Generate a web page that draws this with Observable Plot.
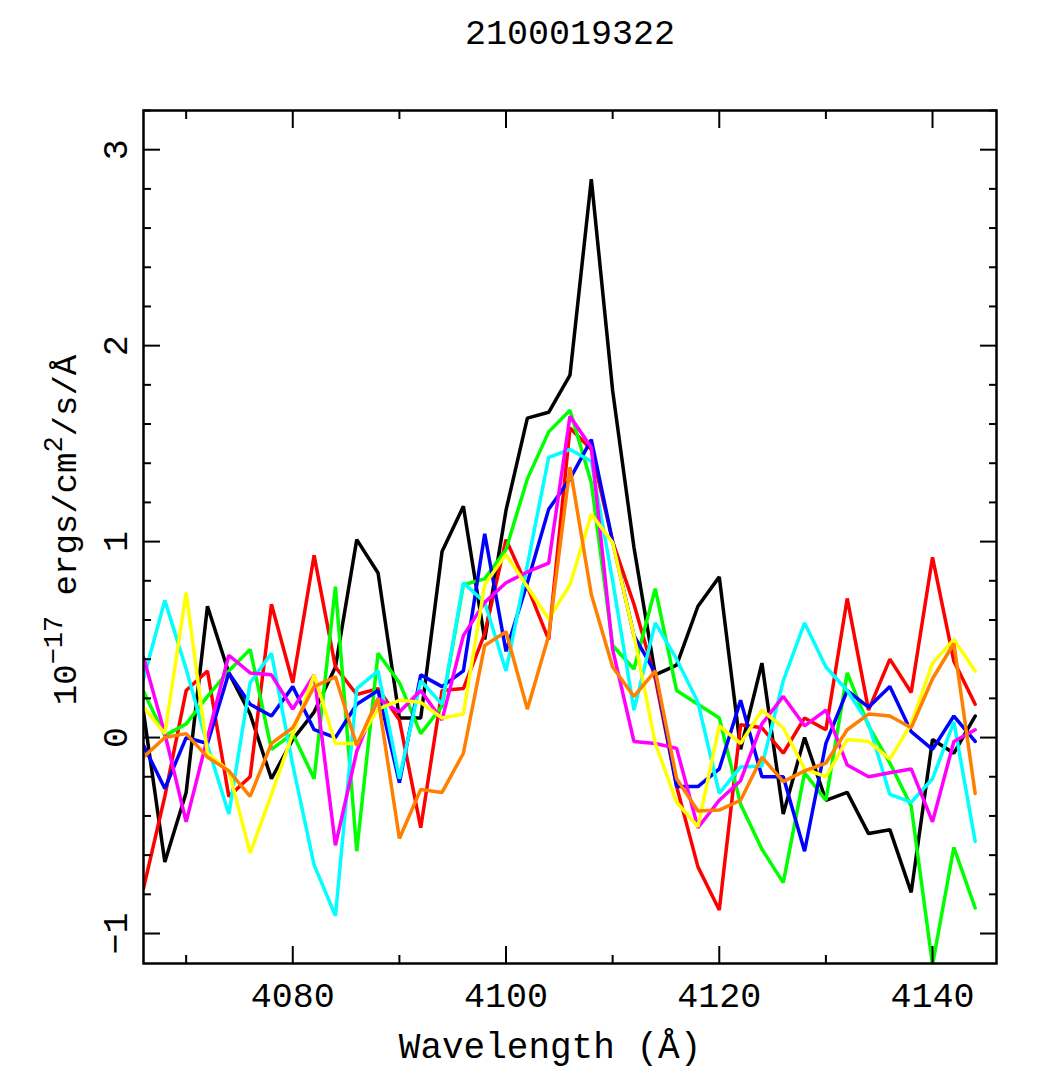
<!DOCTYPE html>
<html><head><meta charset="utf-8">
<script src="https://cdn.jsdelivr.net/npm/d3@7"></script>
<script src="https://cdn.jsdelivr.net/npm/@observablehq/plot@0.6"></script>
<style>html,body{margin:0;padding:0;background:#fff}</style>
</head><body><div id="chart"></div>
<script>
const title = "2100019322";
const xLabel = "Wavelength (Å)";
const yLabel = "10-17 ergs/cm2/s/Å";
const xMajorTicks = [4080, 4100, 4120, 4140];
const xMinorTicks = [4070, 4090, 4110, 4130];
const yMajorTicks = [-1, 0, 1, 2, 3];
const yMinorTicks = [-0.8, -0.6, -0.4, -0.2, 0.2, 0.4, 0.6, 0.8, 1.2, 1.4, 1.6, 1.8, 2.2, 2.4, 2.6, 2.8, 3.2];

const wavelengths = [4066, 4068, 4070, 4072, 4074, 4076, 4078, 4080, 4082, 4084,
  4086, 4088, 4090, 4092, 4094, 4096, 4098, 4100, 4102, 4104,
  4106, 4108, 4110, 4112, 4114, 4116, 4118, 4120, 4122, 4124,
  4126, 4128, 4130, 4132, 4134, 4136, 4138, 4140, 4142, 4144];

const black = [0.13, -0.635, -0.28, 0.67, 0.33, 0.12, -0.21, -0.01, 0.13, 0.36,
  1.01, 0.84, 0.10, 0.10, 0.95, 1.18, 0.50, 1.16, 1.63, 1.66,
  1.85, 2.85, 1.77, 0.97, 0.32, 0.37, 0.67, 0.82, -0.06, 0.38,
  -0.39, 0.0, -0.32, -0.28, -0.49, -0.47, -0.79, -0.01, -0.08, 0.11];
const red = [-0.77, -0.30, 0.24, 0.34, -0.30, -0.20, 0.68, 0.28, 0.93, 0.36,
  0.22, 0.25, 0.09, -0.46, 0.24, 0.25, 0.53, 1.01, 0.77, 0.50,
  1.58, 1.47, 1.00, 0.68, 0.30, -0.25, -0.66, -0.88, 0.065, 0.05,
  -0.08, 0.10, 0.04, 0.71, 0.14, 0.40, 0.23, 0.92, 0.39, 0.17];
const green = [0.235, 0.01, 0.07, 0.21, 0.34, 0.45, -0.06, 0.02, -0.21, 0.77,
  -0.58, 0.43, 0.28, 0.02, 0.16, 0.78, 0.81, 0.96, 1.32, 1.56,
  1.67, 1.30, 0.47, 0.35, 0.76, 0.24, 0.17, 0.10, -0.34, -0.57,
  -0.74, -0.18, -0.32, 0.33, 0.06, -0.13, -0.35, -1.16, -0.56, -0.87];
const blue = [-0.04, -0.26, 0.0, -0.03, 0.33, 0.17, 0.11, 0.26, 0.04, 0.0,
  0.17, 0.24, -0.23, 0.32, 0.26, 0.34, 1.04, 0.44, 0.79, 1.165,
  1.32, 1.52, 1.00, 0.52, 0.33, -0.25, -0.25, -0.16, 0.19, -0.20,
  -0.20, -0.58, -0.03, 0.24, 0.155, 0.26, 0.03, -0.06, 0.11, -0.02];
const cyan = [0.30, 0.70, 0.35, -0.04, -0.39, 0.28, 0.43, -0.14, -0.65, -0.91,
  0.25, 0.34, -0.21, 0.29, 0.17, 0.79, 0.69, 0.34, 0.88, 1.43,
  1.47, 1.41, 0.80, 0.14, 0.585, 0.40, 0.18, -0.285, -0.15, -0.145,
  0.29, 0.585, 0.36, 0.24, 0.07, -0.29, -0.33, -0.21, 0.08, -0.53];
const magenta = [0.41, 0.02, -0.43, 0.0, 0.42, 0.33, 0.32, 0.145, 0.32, -0.55,
  -0.07, 0.20, 0.13, 0.24, 0.09, 0.52, 0.69, 0.79, 0.845, 0.89,
  1.64, 1.48, 0.45, -0.02, -0.03, -0.055, -0.46, -0.32, -0.22, 0.07,
  0.21, 0.06, 0.14, -0.14, -0.20, -0.18, -0.16, -0.43, -0.02, 0.04];
const yellow = [0.155, 0.02, 0.74, -0.08, -0.17, -0.59, -0.29, 0.02, 0.32, -0.03,
  -0.03, 0.145, 0.19, 0.18, 0.10, 0.12, 0.78, 0.935, 0.77, 0.605,
  0.78, 1.14, 0.995, 0.52, -0.03, -0.33, -0.455, 0.06, -0.03, 0.14,
  0.05, -0.16, -0.20, -0.01, -0.02, -0.11, 0.07, 0.38, 0.50, 0.34];
const orange = [-0.10, 0.0, 0.02, -0.10, -0.17, -0.30, -0.03, 0.05, 0.26, 0.31,
  -0.04, 0.20, -0.515, -0.265, -0.28, -0.08, 0.47, 0.54, 0.145, 0.52,
  1.38, 0.73, 0.36, 0.21, 0.34, -0.21, -0.375, -0.37, -0.32, -0.10,
  -0.225, -0.17, -0.13, 0.04, 0.12, 0.11, 0.05, 0.30, 0.48, -0.285];

const seriesNames = ["black", "red", "green", "blue", "cyan", "magenta", "yellow", "orange"];
const seriesColors = ["#000000", "#ff0000", "#00ff00", "#0000ff", "#00ffff", "#ff00ff", "#ffff00", "#ff8000"];
const seriesValues = [black, red, green, blue, cyan, magenta, yellow, orange];

const rows = seriesValues.map((vals, s) => vals.map((v, i) => ({wavelength: wavelengths[i], flux: v, series: seriesNames[s]})));

const fmt = d => String(d).replace("-", "\u2212");
const font = "'Liberation Mono', 'DejaVu Sans Mono', monospace";
const fs = 35;

const plot = Plot.plot({
  width: 1052,
  height: 1084,
  marginLeft: 143,
  marginRight: 56,
  marginTop: 110,
  marginBottom: 121,
  style: {fontFamily: font, fontSize: fs + "px", background: "#fff", color: "#000"},
  x: {domain: [4066, 4146]},
  y: {domain: [-1.153, 3.2]},
  marks: [
    ...rows.map((r, s) => Plot.line(r, {x: "wavelength", y: "flux", stroke: seriesColors[s], strokeWidth: 3.5, strokeLinejoin: "miter", clip: true})),
    Plot.axisX({ticks: xMajorTicks, anchor: "bottom", tickSize: -17, tickFormat: () => "", label: null, strokeWidth: 2}),
    Plot.axisX({ticks: xMajorTicks, anchor: "top", tickSize: -17, tickFormat: () => "", label: null, strokeWidth: 2}),
    Plot.axisX({ticks: xMinorTicks, anchor: "bottom", tickSize: -8, tickFormat: () => "", label: null, strokeWidth: 2}),
    Plot.axisX({ticks: xMinorTicks, anchor: "top", tickSize: -8, tickFormat: () => "", label: null, strokeWidth: 2}),
    Plot.axisY({ticks: yMajorTicks, anchor: "left", tickSize: -17, tickFormat: () => "", label: null, strokeWidth: 2}),
    Plot.axisY({ticks: yMajorTicks, anchor: "right", tickSize: -17, tickFormat: () => "", label: null, strokeWidth: 2}),
    Plot.axisY({ticks: yMinorTicks, anchor: "left", tickSize: -8, tickFormat: () => "", label: null, strokeWidth: 2}),
    Plot.axisY({ticks: yMinorTicks, anchor: "right", tickSize: -8, tickFormat: () => "", label: null, strokeWidth: 2}),
    Plot.frame({stroke: "#000", strokeWidth: 2.5}),
    Plot.text(xMajorTicks, {x: d => d, frameAnchor: "bottom", dy: 32, text: d => fmt(d), lineAnchor: "middle", textAnchor: "middle", fontSize: fs}),
    Plot.text(yMajorTicks, {y: d => d, frameAnchor: "left", dx: -28, rotate: -90, text: d => fmt(d), lineAnchor: "middle", textAnchor: "middle", fontSize: fs}),
    Plot.text([xLabel], {frameAnchor: "bottom", dx: -20, dy: 83, text: d => d, lineAnchor: "middle", textAnchor: "middle", fontSize: 36}),
    Plot.text([yLabel], {frameAnchor: "left", dx: -78, dy: -7, rotate: -90, text: d => d, lineAnchor: "middle", textAnchor: "middle", fontSize: 34}),
    Plot.text([title], {frameAnchor: "top", dy: -78, text: d => d, lineAnchor: "middle", textAnchor: "middle", fontSize: fs})
  ]
});

// rich text for the y label (superscripts)
plot.querySelectorAll("text").forEach(t => {
  if (t.textContent === yLabel) {
    t.textContent = "";
    const parts = [
      ["10", 0, null], ["\u221217", -14, 27], [" ergs/cm", 14, null], ["2", -14, 27], ["/s/Å", 14, null]
    ];
    for (const [txt, dy, size] of parts) {
      const ts = document.createElementNS("http://www.w3.org/2000/svg", "tspan");
      ts.textContent = txt;
      if (dy) ts.setAttribute("dy", dy);
      if (size) ts.setAttribute("font-size", size);
      t.appendChild(ts);
    }
  }
});

document.getElementById("chart").appendChild(plot);
</script>
</body></html>
